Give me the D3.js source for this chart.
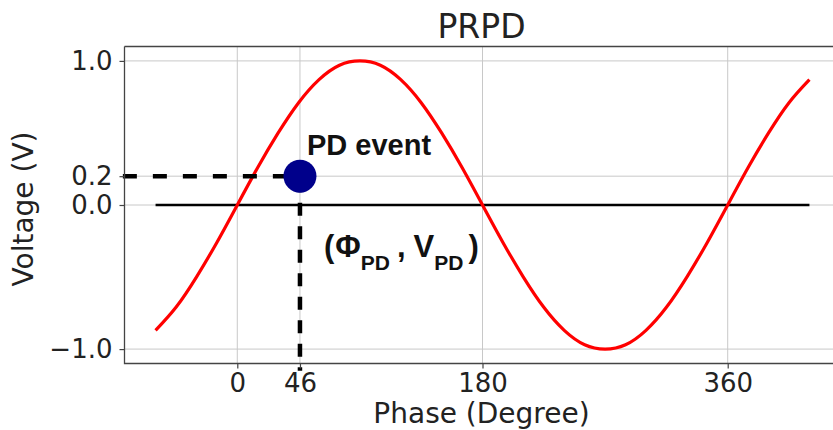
<!DOCTYPE html>
<html>
<head>
<meta charset="utf-8">
<script src="https://cdn.jsdelivr.net/npm/d3@7"></script>
<style>
  html, body { margin: 0; padding: 0; background: #fff; }
  svg { display: block; }
</style>
</head>
<body>
<div id="chart"></div>
<script>
// ---- data ----
const phaseDeg = [-60,-45,-30,-15,0,15,30,45,60,75,90,105,120,135,150,165,180,195,210,225,240,255,270,285,300,315,330,345,360,375,390,405,420];
const voltage  = [-0.87,-0.71,-0.5,-0.26,0,0.26,0.5,0.71,0.87,0.97,1,0.97,0.87,0.71,0.5,0.26,0,-0.26,-0.5,-0.71,-0.87,-0.97,-1,-0.97,-0.87,-0.71,-0.5,-0.26,0,0.26,0.5,0.71,0.87];
const zeroLinePhase = [-60, 420];
const zeroLineVoltage = [0, 0];
const pdPhase = 46;
const pdVoltage = 0.2;
const guideHPhase = [-84, 46];
const guideVVoltage = [0.2, -1.15];
const xTicks = [0, 46, 180, 360];
const yTicks = [-1.0, 0.0, 0.2, 1.0];
const xDomain = [-82.8, 441.7];
const yDomain = [-1.1, 1.1];
const titleText = "PRPD";
const xLabel = "Phase (Degree)";
const yLabel = "Voltage (V)";
const eventLabel = "PD event";

// ---- layout ----
const W = 833, H = 430;
const L = 124.5, R = 839, T = 46.5, B = 363.5;

const svg = d3.select("#chart").append("svg").attr("width", W).attr("height", H);

const x = d3.scaleLinear().domain(xDomain).range([L, R]);
const y = d3.scaleLinear().domain(yDomain).range([B, T]);

// grid
const grid = svg.append("g");
grid.selectAll("line.gx").data(xTicks).join("line")
  .attr("x1", d => x(d)).attr("x2", d => x(d)).attr("y1", T).attr("y2", B)
  .attr("stroke", "#c8c8c8").attr("stroke-width", 1);
grid.selectAll("line.gy").data(yTicks).join("line")
  .attr("x1", L).attr("x2", R).attr("y1", d => y(d)).attr("y2", d => y(d))
  .attr("stroke", "#c8c8c8").attr("stroke-width", 1);

// zero line
svg.append("line")
  .attr("x1", x(zeroLinePhase[0])).attr("x2", x(zeroLinePhase[1]))
  .attr("y1", y(zeroLineVoltage[0])).attr("y2", y(zeroLineVoltage[1]))
  .attr("stroke", "#000").attr("stroke-width", 2.3);

// sine
const pts = phaseDeg.map((p, i) => [p, voltage[i]]);
svg.append("path").datum(pts)
  .attr("d", d3.line().x(d => x(d[0])).y(d => y(d[1])).curve(d3.curveNatural))
  .attr("fill", "none").attr("stroke", "#ff0000").attr("stroke-width", 3.2);

// guide dashed lines
svg.append("line")
  .attr("x1", x(guideHPhase[0])).attr("x2", x(guideHPhase[1]))
  .attr("y1", y(pdVoltage)).attr("y2", y(pdVoltage))
  .attr("stroke", "#000").attr("stroke-width", 4.5)
  .attr("stroke-dasharray", "14,16");
svg.append("line")
  .attr("x1", x(pdPhase)).attr("x2", x(pdPhase))
  .attr("y1", y(guideVVoltage[0]) + 3).attr("y2", y(guideVVoltage[1]))
  .attr("stroke", "#000").attr("stroke-width", 4.5)
  .attr("stroke-dasharray", "13,10.5");

// PD event point
svg.append("circle")
  .attr("cx", x(pdPhase)).attr("cy", y(pdVoltage)).attr("r", 16.5)
  .attr("fill", "#00008b");

// spines
svg.append("path")
  .attr("d", `M${L},${T}H${R}M${L},${T}V${B}H${R}`)
  .attr("fill", "none").attr("stroke", "#444").attr("stroke-width", 1.3);

// axes
const fmtY = d3.format(".1f");
const yAxis = svg.append("g").attr("transform", `translate(${L},0)`)
  .call(d3.axisLeft(y).tickValues(yTicks).tickSize(5).tickPadding(7).tickFormat(d => fmtY(d)));
const xAxis = svg.append("g").attr("transform", `translate(0,${B})`)
  .call(d3.axisBottom(x).tickValues(xTicks).tickSize(5).tickPadding(5).tickFormat(d3.format("d")));
[xAxis, yAxis].forEach(a => {
  a.select(".domain").remove();
  a.selectAll(".tick line").attr("stroke", "#444").attr("stroke-width", 1.2);
  a.selectAll(".tick text").attr("fill", "#222")
    .style("font-family", "'DejaVu Sans', sans-serif").style("font-size", "26px");
});

// titles
svg.append("text").attr("x", 481.5).attr("y", 38).attr("text-anchor", "middle")
  .style("font-family", "'DejaVu Sans', sans-serif").style("font-size", "33px").attr("fill", "#222")
  .text(titleText);
svg.append("text").attr("x", 481.5).attr("y", 423).attr("text-anchor", "middle")
  .style("font-family", "'DejaVu Sans', sans-serif").style("font-size", "28px").attr("fill", "#222")
  .text(xLabel);
svg.append("text").attr("transform", "translate(33,209) rotate(-90)").attr("text-anchor", "middle")
  .style("font-family", "'DejaVu Sans', sans-serif").style("font-size", "28px").attr("fill", "#222")
  .text(yLabel);

// annotations
svg.append("text").attr("x", 307).attr("y", 155)
  .style("font-family", "'Liberation Sans', Arial, sans-serif").style("font-size", "29px").style("font-weight", "bold")
  .attr("fill", "#111").text(eventLabel);

const coord = svg.append("text").attr("x", 324).attr("y", 257)
  .style("font-family", "'Liberation Sans', Arial, sans-serif").style("font-weight", "bold").attr("fill", "#111");
coord.append("tspan").style("font-size", "31px").text("(");
coord.append("tspan").style("font-size", "31px").attr("dx", 1).text("Φ");
coord.append("tspan").style("font-size", "21px").attr("dy", 13).text("PD");
coord.append("tspan").style("font-size", "31px").attr("dy", -13).attr("dx", 7).text(",");
coord.append("tspan").style("font-size", "31px").attr("dx", 8).text("V");
coord.append("tspan").style("font-size", "21px").attr("dy", 13).text("PD");
coord.append("tspan").style("font-size", "31px").attr("dy", -13).attr("dx", 5).text(")");
</script>
</body>
</html>
